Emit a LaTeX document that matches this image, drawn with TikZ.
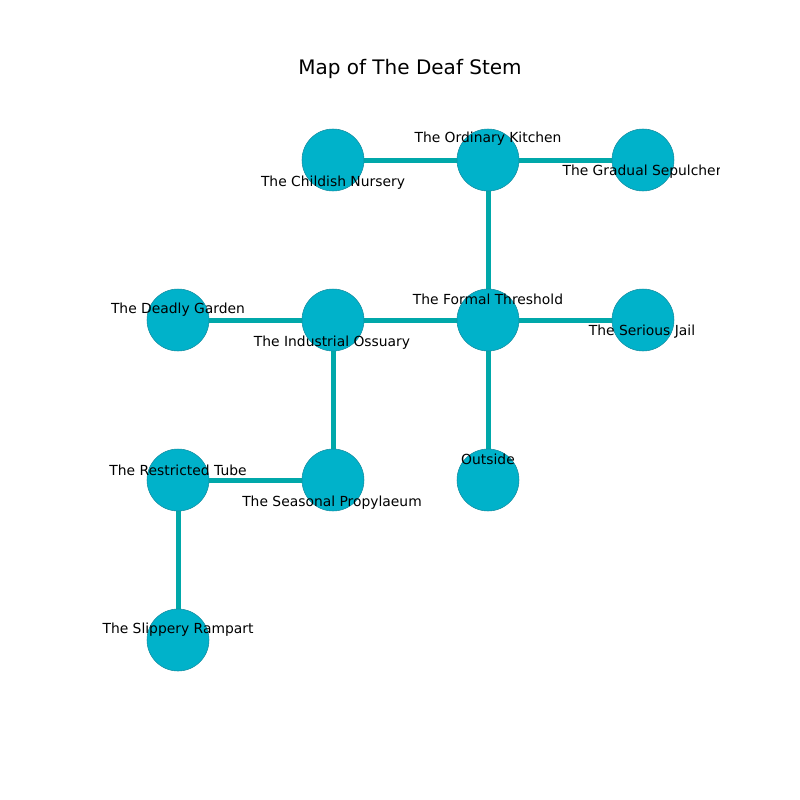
\documentclass[tikz,border=0pt]{standalone}
\usepackage{fontspec}
\setmainfont{DejaVu Sans}
\usetikzlibrary{backgrounds}
\definecolor{roomfill}{RGB}{0,178,202}
\definecolor{roomedge}{RGB}{20,140,160}
\definecolor{passage}{RGB}{0,168,170}
\begin{document}
\begin{tikzpicture}[x=0.75pt,y=-0.75pt,
  room/.style={circle,fill=roomfill,draw=roomedge,line width=0.4pt,minimum size=46.5pt,inner sep=0pt},
  passageway/.style={draw=passage,line width=3.75pt},
  roomlabel/.style={font=\fontsize{10.4}{12}\selectfont,inner sep=0pt,anchor=center,yshift=-1.5pt}]
\useasboundingbox (0,0) rectangle (800,800);
\node[font=\fontsize{15}{18}\selectfont] (title) at (410,69) {Map of The Deaf Stem};

% rooms on a 155px grid
\node[room] (nursery)   at (333,160) {};
\node[room] (kitchen)   at (488,160) {};
\node[room] (sepulcher) at (643,160) {};
\node[room] (garden)    at (178,320) {};
\node[room] (ossuary)   at (333,320) {};
\node[room] (threshold) at (488,320) {};
\node[room] (jail)      at (643,320) {};
\node[room] (tube)      at (178,480) {};
\node[room] (propylaeum) at (333,480) {};
\node[room] (outside)   at (488,480) {};
\node[room] (rampart)   at (178,640) {};

% passages, drawn beneath the rooms
\begin{scope}[on background layer]
\path[passageway] (nursery.center) -- (kitchen.center);
\path[passageway] (kitchen.center) -- (sepulcher.center);
\path[passageway] (kitchen.center) -- (threshold.center);
\path[passageway] (garden.center) -- (ossuary.center);
\path[passageway] (ossuary.center) -- (threshold.center);
\path[passageway] (threshold.center) -- (jail.center);
\path[passageway] (threshold.center) -- (outside.center);
\path[passageway] (ossuary.center) -- (propylaeum.center);
\path[passageway] (tube.center) -- (propylaeum.center);
\path[passageway] (tube.center) -- (rampart.center);
\end{scope}

% labels
\node[roomlabel] (l-nursery)   at (333,181) {The Childish Nursery};
\node[roomlabel] (l-kitchen)   at (488,137) {The Ordinary Kitchen};
\begin{scope}
  \clip (0,0) rectangle (719,800);
  \node[roomlabel] (l-sepulcher) at (642,170) {The Gradual Sepulcher};
\end{scope}
\node[roomlabel] (l-garden)    at (178,308) {The Deadly Garden};
\node[roomlabel] (l-ossuary)   at (332,341) {The Industrial Ossuary};
\node[roomlabel] (l-threshold) at (488,297) {The Formal Threshold};
\node[roomlabel] (l-jail)      at (642,330) {The Serious Jail};
\node[roomlabel] (l-tube)      at (178,468) {The Restricted Tube};
\node[roomlabel] (l-propylaeum) at (332,501) {The Seasonal Propylaeum};
\node[roomlabel] (l-outside)   at (488,457) {Outside};
\node[roomlabel] (l-rampart)   at (178,628) {The Slippery Rampart};
\end{tikzpicture}
\end{document}
